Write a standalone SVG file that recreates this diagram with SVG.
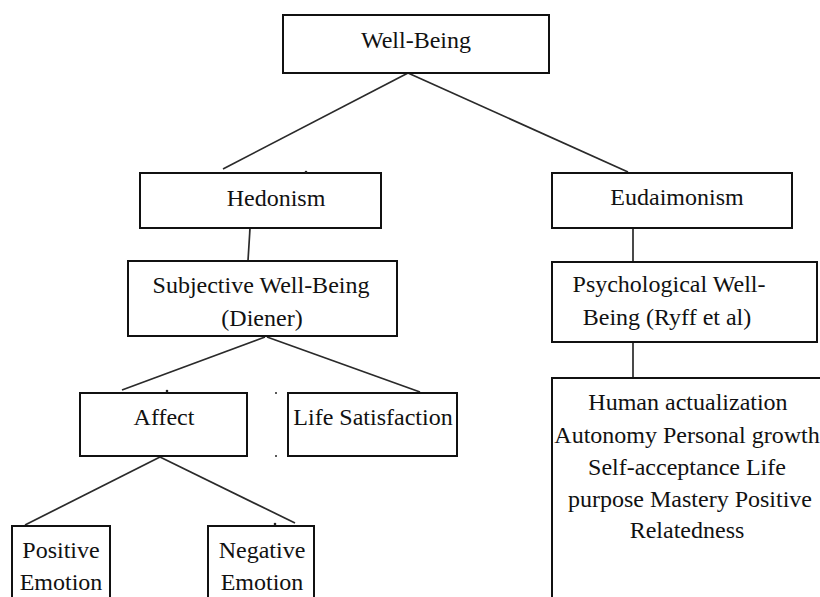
<svg xmlns="http://www.w3.org/2000/svg" width="820" height="597" viewBox="0 0 820 597">
<style>
.box{fill:#fff;stroke:#111;stroke-width:2}
.t{font-family:"Liberation Serif","Times New Roman",serif;font-size:24px;fill:#111;text-anchor:middle}
.c{stroke:#2a2a2a;stroke-width:1.7;fill:none}
.dot{fill:#222}
</style>
<rect width="820" height="597" fill="#fff"/>
<g id="connectors">
<path class="c" d="M408,73 L223,169"/>
<path class="c" d="M408,73 L628,172"/>
<path class="c" d="M250,228 L248,261"/>
<path class="c" d="M633,228 L633,262"/>
<path class="c" d="M265,337 L122,390"/>
<path class="c" d="M267,337 L420,392"/>
<path class="c" d="M633,342 L633,378"/>
<path class="c" d="M160,457 L25,525"/>
<path class="c" d="M160,457 L295,523"/>
</g>
<g id="well-being">
<rect class="box" x="283" y="15" width="266" height="58"/>
<text class="t" x="416" y="48">Well-Being</text>
</g>
<g id="hedonism">
<rect class="box" x="140" y="173" width="241" height="55"/>
<text class="t" x="276" y="206">Hedonism</text>
</g>
<g id="eudaimonism">
<rect class="box" x="552" y="173" width="240" height="55"/>
<text class="t" x="677" y="205">Eudaimonism</text>
</g>
<g id="subjective-well-being">
<rect class="box" x="128" y="261" width="269" height="75"/>
<text class="t" x="261" y="293">Subjective Well-Being</text>
<text class="t" x="262" y="326">(Diener)</text>
</g>
<g id="psychological-well-being">
<rect class="box" x="552" y="262" width="265" height="80"/>
<text class="t" x="669" y="292">Psychological Well-</text>
<text class="t" x="667" y="325">Being (Ryff et al)</text>
</g>
<g id="affect">
<rect class="box" x="80" y="393" width="167" height="63"/>
<text class="t" x="164" y="425">Affect</text>
</g>
<g id="life-satisfaction">
<rect class="box" x="288" y="393" width="169" height="63"/>
<text class="t" x="373" y="425">Life Satisfaction</text>
</g>
<g id="positive-emotion">
<rect class="box" x="12" y="526" width="98" height="80"/>
<text class="t" x="61" y="558">Positive</text>
<text class="t" x="61" y="590">Emotion</text>
</g>
<g id="negative-emotion">
<rect class="box" x="208" y="526" width="106" height="80"/>
<text class="t" x="262" y="558">Negative</text>
<text class="t" x="262" y="590">Emotion</text>
</g>
<g id="pwb-dimensions">
<rect class="box" x="552" y="378" width="280" height="230"/>
<text class="t" x="688" y="410">Human actualization</text>
<text class="t" x="687" y="443">Autonomy Personal growth</text>
<text class="t" x="687" y="475">Self-acceptance  Life</text>
<text class="t" x="690" y="507">purpose Mastery Positive</text>
<text class="t" x="687" y="538">Relatedness</text>
</g>
<g id="dots">
<circle class="dot" cx="306" cy="172" r="1.3"/>
<circle class="dot" cx="167" cy="391" r="1.3"/>
<circle class="dot" cx="276" cy="393" r="1"/>
<circle class="dot" cx="276" cy="456" r="1"/>
<circle class="dot" cx="275" cy="524" r="1.3"/>
</g>
</svg>
